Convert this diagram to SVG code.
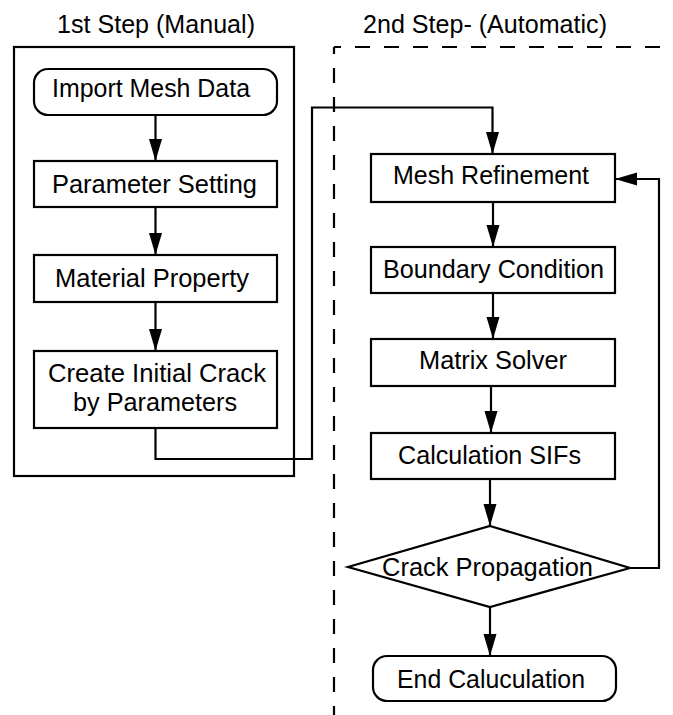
<svg xmlns="http://www.w3.org/2000/svg" width="673" height="715" viewBox="0 0 673 715">
<style>
.box{fill:#fff;stroke:#000;stroke-width:2.2}
.frame{fill:none;stroke:#000;stroke-width:2.2}
.dash{fill:none;stroke:#000;stroke-width:2.2;stroke-dasharray:15 14;stroke-dashoffset:8}
.conn{fill:none;stroke:#000;stroke-width:2.2}
text{font-family:"Liberation Sans",Arial,sans-serif;font-size:25px;fill:#000}
</style>
<defs>
<marker id="arr" markerUnits="userSpaceOnUse" markerWidth="24" markerHeight="14" refX="22" refY="6.5" orient="auto">
<path d="M0,0 L22,6.5 L0,13 z" fill="#000"/>
</marker>
</defs>
<g id="frame-manual">
<rect class="frame" x="14" y="47" width="280" height="429"/>
<text x="57" y="33" textLength="198" lengthAdjust="spacingAndGlyphs">1st Step (Manual)</text>
</g>
<g id="frame-automatic">
<path class="dash" d="M334,47 H673"/>
<path class="dash" d="M334,47 V715"/>
<text x="363" y="33" textLength="244" lengthAdjust="spacingAndGlyphs">2nd Step- (Automatic)</text>
</g>
<g id="connectors">
<path class="conn" d="M155.5,115 V161" marker-end="url(#arr)"/>
<path class="conn" d="M155.5,207 V255" marker-end="url(#arr)"/>
<path class="conn" d="M155.5,302 V351" marker-end="url(#arr)"/>
<path class="conn" d="M155.5,428 V459 H312 V107.5 H492.5 V154" marker-end="url(#arr)"/>
<path class="conn" d="M493,202 V247" marker-end="url(#arr)"/>
<path class="conn" d="M493,293 V339" marker-end="url(#arr)"/>
<path class="conn" d="M491,386 V433" marker-end="url(#arr)"/>
<path class="conn" d="M490,479 V526" marker-end="url(#arr)"/>
<path class="conn" d="M490,607 V656" marker-end="url(#arr)"/>
<path class="conn" d="M630,568 H659 V179 H615" marker-end="url(#arr)"/>
</g>
<g id="import">
<rect class="box" x="34" y="69" width="243" height="46" rx="14"/>
<text x="52" y="97" textLength="198" lengthAdjust="spacingAndGlyphs">Import Mesh Data</text>
</g>
<g id="parameter">
<rect class="box" x="34" y="161" width="243" height="46"/>
<text x="52" y="193" textLength="205" lengthAdjust="spacingAndGlyphs">Parameter Setting</text>
</g>
<g id="material">
<rect class="box" x="34" y="255" width="243" height="47"/>
<text x="55" y="287" textLength="194" lengthAdjust="spacingAndGlyphs">Material Property</text>
</g>
<g id="create">
<rect class="box" x="34" y="351" width="243" height="77"/>
<text x="48" y="382" textLength="218" lengthAdjust="spacingAndGlyphs">Create Initial Crack</text>
<text x="73" y="411" textLength="164" lengthAdjust="spacingAndGlyphs">by Parameters</text>
</g>
<g id="mesh">
<rect class="box" x="371" y="154" width="244" height="48"/>
<text x="393" y="184" textLength="196" lengthAdjust="spacingAndGlyphs">Mesh Refinement</text>
</g>
<g id="boundary">
<rect class="box" x="371" y="247" width="244" height="46"/>
<text x="383" y="278" textLength="221" lengthAdjust="spacingAndGlyphs">Boundary Condition</text>
</g>
<g id="matrix">
<rect class="box" x="371" y="339" width="244" height="47"/>
<text x="419" y="369" textLength="148" lengthAdjust="spacingAndGlyphs">Matrix Solver</text>
</g>
<g id="sifs">
<rect class="box" x="371" y="433" width="244" height="46"/>
<text x="398" y="464" textLength="183" lengthAdjust="spacingAndGlyphs">Calculation SIFs</text>
</g>
<g id="propagation">
<polygon class="box" points="490,526 630,568 490,607 348,567"/>
<text x="382" y="576" textLength="211" lengthAdjust="spacingAndGlyphs">Crack Propagation</text>
</g>
<g id="end">
<rect class="box" x="373" y="656" width="243" height="45" rx="14"/>
<text x="397" y="688" textLength="188" lengthAdjust="spacingAndGlyphs">End Caluculation</text>
</g>
</svg>
